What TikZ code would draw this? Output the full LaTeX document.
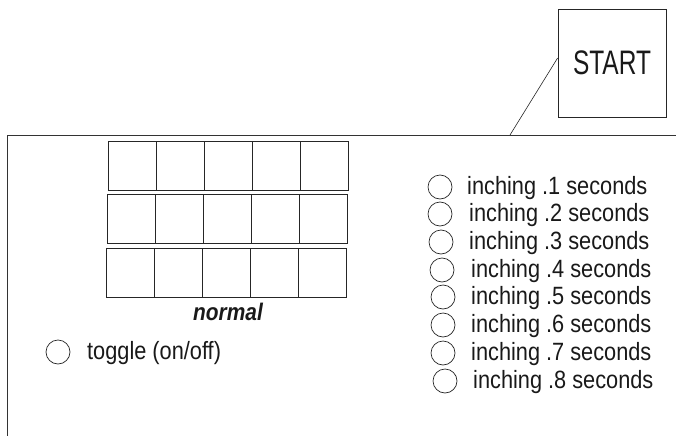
\documentclass[tikz,border=0pt]{standalone}
\usepackage{fontspec}
\newfontfamily\labfont[FakeStretch=0.87]{Liberation Sans}
\newfontfamily\startfont[FakeStretch=0.72]{Liberation Sans}
\begin{document}
\begin{tikzpicture}[x=1pt,y=-1pt,
  frame/.style={draw=black!80,line width=0.9pt},
  cell/.style={draw=black!85,line width=0.8pt,minimum width=48pt,minimum height=49pt,inner sep=0pt,outer sep=0pt},
  radio/.style={draw=black!85,line width=0.7pt,circle,minimum size=24pt,inner sep=0pt},
  lab/.style={font=\labfont\fontsize{25}{28}\selectfont,text=black!90,inner sep=0pt,anchor=west},
  startbox/.style={draw=black!85,line width=0.8pt,minimum width=108pt,minimum height=108pt,inner sep=0pt,font=\startfont\fontsize{34}{38}\selectfont,text=black!90}]
\useasboundingbox (0,0) rectangle (676,436);
% main panel
\coordinate (tr) at (676,135);
\coordinate (tl) at (7,135);
\coordinate (bl) at (7,436);
\draw[frame] (tr) -- (tl) -- (bl);
% START button
\node[startbox] (start) at (612,63) {START};
\coordinate (tap) at (510,135);
\draw[black!85,line width=0.6pt] (tap) -- ([yshift=5pt]start.west);
% display grid
\foreach \r/\x/\y in {1/108/141,2/107/194,3/106/248}{
  \foreach \c in {1,...,5}{
    \node[cell,anchor=north west] (r\r c\c) at ({\x+48*(\c-1)},\y) {};
  }
}
\node[font=\labfont\fontsize{24}{28}\selectfont\bfseries\itshape,text=black!90,inner sep=0pt] (normal) at (228,312) {normal};
% toggle
\node[radio] (tog) at (58,352) {};
\node[lab] (togl) at (87,353) {toggle (on/off)};
% inching options
\foreach \i/\cx/\cy/\tx in {1/440/187/467,2/440/214/469,3/441/242/469,4/442/270/471,5/443/297/471,6/443/325/471,7/443/353/471,8/445/381/473}{
  \node[radio] (c\i) at (\cx,\cy) {};
  \node[lab] (t\i) at (\tx,\cy+1) {inching .\i\ seconds};
}
\end{tikzpicture}
\end{document}
